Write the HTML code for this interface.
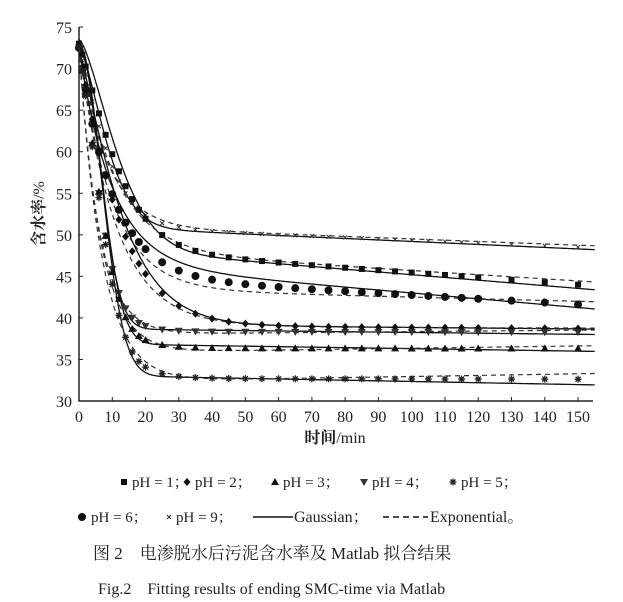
<!DOCTYPE html><html><head><meta charset="utf-8"><style>
body{margin:0;background:#fff;width:623px;height:602px;overflow:hidden}
svg{position:absolute;left:0;top:0}
text{font-family:"Liberation Serif","Noto Serif CJK SC",serif;fill:#222}
</style></head><body>
<svg id="s" width="623" height="602" xmlns="http://www.w3.org/2000/svg"></svg>
<script>
const s=document.getElementById('s');
const X=t=>79+t*3.327, Y=v=>401-(v-30)*8.31;
let h='';
h+='<path d="M79,27V401H593" stroke="#222" stroke-width="1.5" fill="none"/>';
for(let v=30;v<=75;v+=5){h+=`<line x1="79" x2="83" y1="${Y(v)}" y2="${Y(v)}" stroke="#222"/><text x="72" y="${Y(v)+6}" font-size="16" text-anchor="end">${v}</text>`;}
for(let t=0;t<=150;t+=10){h+=`<line x1="${X(t)}" x2="${X(t)}" y1="401" y2="397" stroke="#222"/><text x="${X(t)}" y="422" font-size="16" text-anchor="middle">${t}</text>`;}
h+='<text x="335" y="443" font-size="16" text-anchor="middle" font-weight="bold">时间<tspan font-weight="normal">/min</tspan></text>';
h+='<text transform="translate(44,214) rotate(-90)" font-size="16" text-anchor="middle"><tspan font-weight="bold">含水率</tspan>/%</text>';
const S=[
 ['x',51,21.5,10.2,1.5,0.018, 51,8.5,0.015],
 ['sq',48.5,25,13.8,1.5,0.033, 48.2,11,0.025],
 ['ci',46.5,26,10,1,0.035, 43.5,10,0.01],
 ['di',39.2,33,13.9,1.2,0.0035, 39,11,0.0015],
 ['td',38.7,34,8.5,2,0.0045, 38,6,-0.0035],
 ['tu',36.9,36,9,2,0.006, 35.8,6.5,-0.0055],
 ['st',33.1,39.5,9.5,2,0.0075, 32.3,7,-0.0065]];
const g=(A,B,c,p,sl,t)=>A+B*Math.exp(-Math.pow(t/c,p))-sl*t;
const path=(fn)=>{let d='';for(let t=0;t<=155;t+=0.5){d+=(t?'L':'M')+X(t).toFixed(1)+','+Y(fn(t)).toFixed(1);}return d;};
const ts=[0,1,2,4,6,8,10,12,14,16,18,20,25,30,35,40,45,50,55,60,65,70,75,80,85,90,95,100,105,110,115,120,130,140,150];
function mk(m,x,y,k){
 k=k||1;
 if(m=='x')return `<path d="M${x-2*k},${y-2*k}L${x+2*k},${y+2*k}M${x+2*k},${y-2*k}L${x-2*k},${y+2*k}" stroke="#333" stroke-width="1"/>`;
 if(m=='sq')return `<rect x="${x-3*k}" y="${y-3*k}" width="${6*k}" height="${6*k}" fill="#111"/>`;
 if(m=='ci')return `<circle cx="${x}" cy="${y}" r="${4*k}" fill="#111"/>`;
 if(m=='di')return `<path d="M${x},${y-4*k}L${x+3.5*k},${y}L${x},${y+4*k}L${x-3.5*k},${y}Z" fill="#111"/>`;
 if(m=='td')return `<path d="M${x-4*k},${y-3*k}L${x+4*k},${y-3*k}L${x},${y+4*k}Z" fill="#333"/>`;
 if(m=='tu')return `<path d="M${x-4*k},${y+3*k}L${x+4*k},${y+3*k}L${x},${y-4*k}Z" fill="#111"/>`;
 return `<path d="M${x-3.5},${y}H${x+3.5}M${x},${y-3.5}V${y+3.5}M${x-2.5},${y-2.5}L${x+2.5},${y+2.5}M${x+2.5},${y-2.5}L${x-2.5},${y+2.5}" stroke="#222" stroke-width="1.3"/>`;
}
S.forEach(([m,A,B,c,p,sl,A2,c2,sl2])=>{
 const B2=72.5-A2;
 const fs=t=>g(A,B,c,p,sl,t), fd=t=>g(A2,B2,c2,1,sl2,t);
 h+=`<path d="${path(fs)}" stroke="#111" stroke-width="1.3" fill="none"/>`;
 h+=`<path d="${path(fd)}" stroke="#333" stroke-width="1.2" stroke-dasharray="5,4" fill="none"/>`;
 ts.forEach(t=>{const v=(fs(t)+fd(t))/2;h+=mk(m,X(t),Y(v));});
});
const L1=[['sq',124,'pH = 1；'],['di',187,'pH = 2；'],['tu',275,'pH = 3；'],['td',364,'pH = 4；'],['st',453,'pH = 5；']];
L1.forEach(([m,x,t])=>{h+=mk(m,x,482)+`<text x="${x+8}" y="487" font-size="15">${t}</text>`;});
h+=mk('ci',82,517)+'<text x="91" y="522" font-size="15">pH = 6；</text>';
h+=mk('x',169,517)+'<text x="176" y="522" font-size="15">pH = 9；</text>';
h+='<line x1="253" x2="293" y1="517" y2="517" stroke="#111" stroke-width="1.5"/><text x="294" y="522" font-size="16">Gaussian；</text>';
h+='<line x1="383" x2="428" y1="517" y2="517" stroke="#111" stroke-width="1.5" stroke-dasharray="6,4"/><text x="430" y="522" font-size="16">Exponential。</text>';
h+='<text x="93" y="559" font-size="17">图 2　电渗脱水后污泥含水率及 Matlab 拟合结果</text>';
h+='<text x="98" y="594" font-size="16">Fig.2　Fitting results of ending SMC-time via Matlab</text>';
s.innerHTML=h;
</script></body></html>
